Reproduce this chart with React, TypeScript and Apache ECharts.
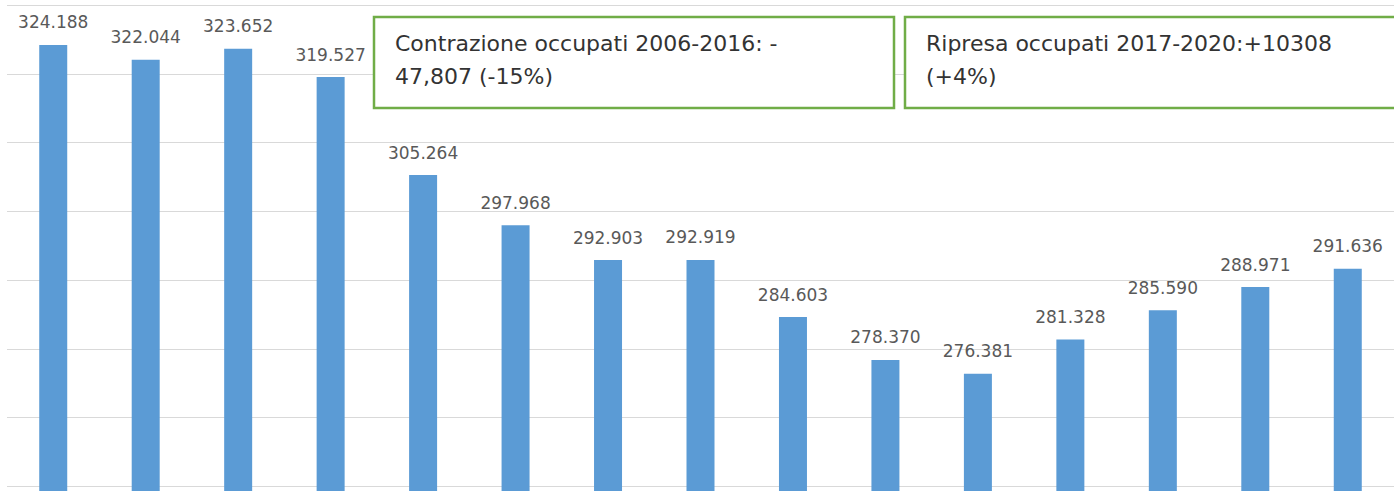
import React, { useEffect, useRef } from "react";
import * as echarts from "echarts";

const categories = ["2006", "2007", "2008", "2009", "2010", "2011", "2012", "2013", "2014", "2015", "2016", "2017", "2018", "2019", "2020"];
const occupati = [324.188, 322.044, 323.652, 319.527, 305.264, 297.968, 292.903, 292.919, 284.603, 278.37, 276.381, 281.328, 285.59, 288.971, 291.636];
const box1Lines = ["Contrazione occupati 2006-2016: -", "47,807 (-15%)"];
const box2Lines = ["Ripresa occupati 2017-2020:+10308", "(+4%)"];

export default function App() {
  const ref = useRef<HTMLDivElement>(null);
  useEffect(() => {
    document.body.style.margin = "0";
    const chart = echarts.init(ref.current!, null, { renderer: "svg" });
    const font = "'DejaVu Sans', sans-serif";
    chart.setOption({
      animation: false,
      grid: { left: 7, right: 0, top: 5, height: 550, containLabel: false, outerBoundsMode: "none" },
      xAxis: {
        type: "category",
        data: categories,
        axisLine: { show: false },
        axisTick: { show: false },
        axisLabel: { show: false },
      },
      yAxis: {
        type: "value",
        min: 250,
        max: 330,
        interval: 10,
        axisLabel: { show: false },
        axisLine: { show: false },
        axisTick: { show: false },
        splitLine: { lineStyle: { color: "#d9d9d9", width: 1 } },
      },
      series: [
        {
          type: "bar",
          data: occupati,
          barWidth: 28,
          itemStyle: { color: "#5b9bd5" },
          label: {
            show: true,
            position: "top",
            distance: 14,
            color: "#595959",
            fontFamily: font,
            fontSize: 17,
            formatter: (p: any) => p.value.toFixed(3),
          },
        },
      ],
      graphic: [
        {
          type: "rect",
          shape: { x: 374, y: 17, width: 520, height: 91 },
          style: { fill: "#ffffff", stroke: "#70ad47", lineWidth: 2.5 },
          z: 10,
        },
        {
          type: "text",
          x: 395,
          y: 27,
          style: { text: box1Lines.join("\n"), fill: "#333333", font: `22px ${font}`, lineHeight: 33 },
          z: 11,
        },
        {
          type: "rect",
          shape: { x: 905, y: 17, width: 520, height: 91 },
          style: { fill: "#ffffff", stroke: "#70ad47", lineWidth: 2.5 },
          z: 10,
        },
        {
          type: "text",
          x: 926,
          y: 27,
          style: { text: box2Lines.join("\n"), fill: "#333333", font: `22px ${font}`, lineHeight: 33 },
          z: 11,
        },
      ],
    });
    return () => chart.dispose();
  }, []);
  return <div ref={ref} style={{ width: 1394, height: 491 }} />;
}
